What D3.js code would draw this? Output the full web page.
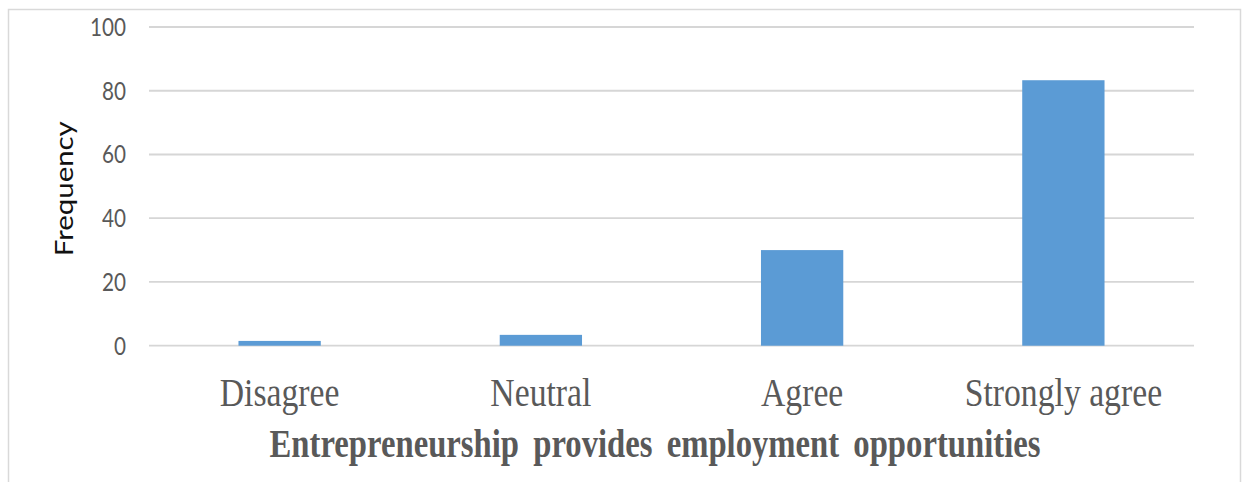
<!DOCTYPE html>
<html>
<head>
<meta charset="utf-8">
<script src="https://cdn.jsdelivr.net/npm/d3@7"></script>
<style>
  body { margin: 0; background: #fff; }
  svg { display: block; }
</style>
</head>
<body>
<svg width="1248" height="482"></svg>
<script>
// chart values
var categories = ["Disagree", "Neutral", "Agree", "Strongly agree"];
var frequency = [1.5, 3.4, 30, 83.3];
var yTicks = [0, 20, 40, 60, 80, 100];
var xTitle = "Entrepreneurship provides employment opportunities";
var yTitle = "Frequency";

var svg = d3.select("svg");
var grey = "#595959";
var stretch = 1.2; // the picture is stretched vertically

// outer frame
svg.append("rect")
    .attr("x", 8.5).attr("y", 9.5)
    .attr("width", 1232).attr("height", 490)
    .attr("fill", "none")
    .attr("stroke", "#d9d9d9")
    .attr("stroke-width", 1.5);

var x = d3.scaleBand()
    .domain(categories)
    .range([149, 1194])
    .paddingInner(0.685)
    .paddingOuter(0.3425);

var y = d3.scaleLinear()
    .domain([0, 100])
    .range([345.7, 27]);

// gridlines
svg.append("g")
  .selectAll("line")
  .data(yTicks)
  .join("line")
    .attr("x1", 149).attr("x2", 1194)
    .attr("y1", function(d) { return y(d); })
    .attr("y2", function(d) { return y(d); })
    .attr("stroke", "#d6d6d6")
    .attr("stroke-width", 1.8);

// y tick labels
svg.append("g")
  .selectAll("text")
  .data(yTicks)
  .join("text")
    .attr("transform", function(d) { return "translate(126," + (y(d) + 8.8) + ") scale(1," + stretch + ")"; })
    .attr("text-anchor", "end")
    .attr("font-family", "Lato, 'Open Sans', sans-serif")
    .attr("font-size", 20.7)
    .attr("fill", grey)
    .text(function(d) { return d; });

// bars
svg.append("g")
  .selectAll("rect")
  .data(frequency)
  .join("rect")
    .attr("x", function(d, i) { return x(categories[i]); })
    .attr("width", x.bandwidth())
    .attr("y", function(d) { return y(d); })
    .attr("height", function(d) { return y(0) - y(d); })
    .attr("fill", "#5b9bd5");

// category labels
svg.append("g")
  .selectAll("text")
  .data(categories)
  .join("text")
    .attr("transform", function(d) { return "translate(" + (x(d) + x.bandwidth() / 2) + ",406) scale(1," + stretch + ")"; })
    .attr("text-anchor", "middle")
    .attr("font-family", "'Liberation Serif', 'Times New Roman', serif")
    .attr("font-size", 33.7)
    .attr("fill", grey)
    .text(function(d) { return d; });

// x axis title
svg.append("text")
    .attr("transform", "translate(655,456.7) scale(1," + stretch + ")")
    .attr("text-anchor", "middle")
    .attr("font-family", "'Liberation Serif', 'Times New Roman', serif")
    .attr("font-weight", "bold")
    .attr("font-size", 32.7)
    .attr("word-spacing", 6)
    .attr("fill", grey)
    .text(xTitle);

// y axis title
svg.append("text")
    .attr("transform", "translate(73,188.7) rotate(-90) scale(" + stretch + ",1)")
    .attr("text-anchor", "middle")
    .attr("font-family", "Lato, 'Open Sans', sans-serif")
    .attr("font-size", 24.5)
    .attr("fill", "#111")
    .text(yTitle);
</script>
</body>
</html>
